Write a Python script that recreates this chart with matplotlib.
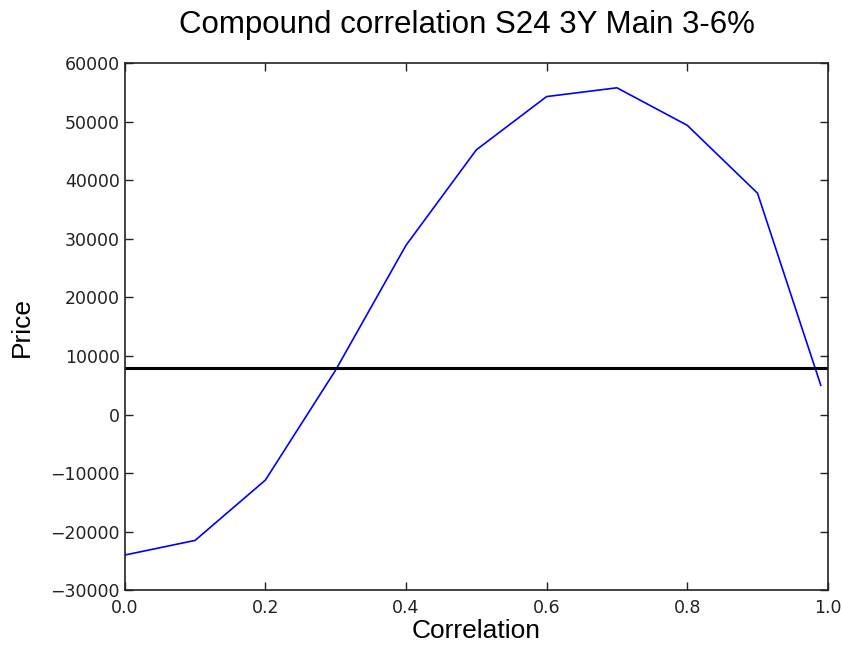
import matplotlib
matplotlib.use("Agg")
import matplotlib.pyplot as plt

correlation = [0.0, 0.1, 0.2, 0.3, 0.4, 0.5, 0.6, 0.7, 0.8, 0.9, 0.99]
price = [-24000, -21500, -11200, 7600, 28900, 45200, 54300, 55800, 49400, 37800, 5000]
market_price = 8000

plt.rcParams['font.family'] = 'DejaVu Sans'

fig = plt.figure(figsize=(8.43, 6.45), dpi=100)
ax = fig.add_axes([0.148, 0.085, 0.834, 0.817])

ax.plot(correlation, price, color='b', linewidth=1.2)
ax.axhline(market_price, color='k', linewidth=2.2)

ax.set_xlim(0.0, 1.0)
ax.set_ylim(-30000, 60000)
ax.set_xticks([0.0, 0.2, 0.4, 0.6, 0.8, 1.0])
ax.set_yticks(range(-30000, 60001, 10000))

ax.set_title("Compound correlation S24 3Y Main 3-6%", fontsize=22.5,
             family='Liberation Sans', pad=22, x=0.487)
ax.set_xlabel("Correlation", fontsize=19, family='Liberation Sans', labelpad=2)
ax.set_ylabel("Price", fontsize=19, family='Liberation Sans', labelpad=12)

ax.tick_params(axis='both', direction='in', top=True, right=True,
               labelsize=12.5, length=6, width=1, colors='#222222')
ax.tick_params(axis='x', pad=6)
for s in ax.spines.values():
    s.set_linewidth(1.2)
    s.set_color('#222222')

fig.savefig("out.png", dpi=100, facecolor='white')
